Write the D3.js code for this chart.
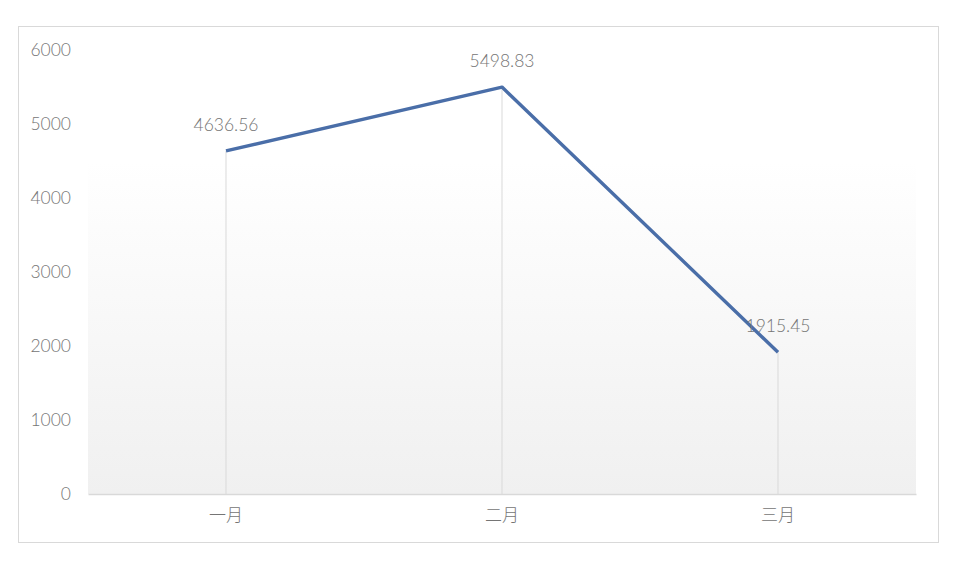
<!DOCTYPE html>
<html>
<head>
<meta charset="utf-8">
<script src="https://cdn.jsdelivr.net/npm/d3@7"></script>
<style>
  body { margin: 0; background: #fff; }
</style>
</head>
<body>
<script>
const months = ["一月", "二月", "三月"];
const values = [4636.56, 5498.83, 1915.45];
const yTicks = [0, 1000, 2000, 3000, 4000, 5000, 6000];

const width = 960, height = 564;
const margin = { top: 50, right: 44, bottom: 70, left: 88 };
const textColor = "#757575";

const svg = d3.select("body").append("svg")
  .attr("width", width)
  .attr("height", height)
  .attr("font-family", "Lato, 'Noto Sans CJK SC', sans-serif")
  .attr("font-weight", 300);

// outer chart border
svg.append("rect")
  .attr("x", 18.5).attr("y", 26.5)
  .attr("width", 920).attr("height", 516)
  .attr("fill", "#fff")
  .attr("stroke", "#d9d9d9");

const x = d3.scaleBand()
  .domain(months)
  .range([margin.left, width - margin.right]);

const y = d3.scaleLinear()
  .domain([0, 6000])
  .range([height - margin.bottom, margin.top]);

const defs = svg.append("defs");
const grad = defs.append("linearGradient")
  .attr("id", "bg")
  .attr("x1", 0).attr("y1", 0).attr("x2", 0).attr("y2", 1);
grad.append("stop").attr("offset", "0%").attr("stop-color", "#ffffff");
grad.append("stop").attr("offset", "25%").attr("stop-color", "#ffffff");
grad.append("stop").attr("offset", "100%").attr("stop-color", "#f0f0f0");

svg.append("rect")
  .attr("x", margin.left)
  .attr("y", margin.top)
  .attr("width", width - margin.left - margin.right)
  .attr("height", height - margin.top - margin.bottom)
  .attr("fill", "url(#bg)");

// y axis labels
svg.append("g")
  .selectAll("text")
  .data(yTicks)
  .join("text")
  .attr("x", 71)
  .attr("y", d => y(d))
  .attr("dy", "0.35em")
  .attr("text-anchor", "end")
  .attr("font-size", 17.5)
  .attr("fill", textColor)
  .text(d => d);

// x axis
const xAxis = svg.append("g")
  .attr("transform", `translate(0,${y(0)})`)
  .call(d3.axisBottom(x).tickSize(0).tickPadding(15));
xAxis.select(".domain").attr("stroke", "#d9d9d9").attr("stroke-width", 1.5);
xAxis.selectAll("text")
  .attr("font-size", 17)
  .attr("fill", textColor)
  .attr("font-weight", 300)
  .attr("font-family", "'Noto Sans CJK SC', sans-serif");

const cx = d => x(d) + x.bandwidth() / 2;

// drop lines
svg.append("g")
  .selectAll("line")
  .data(months)
  .join("line")
  .attr("x1", d => cx(d))
  .attr("x2", d => cx(d))
  .attr("y1", (d, i) => y(values[i]))
  .attr("y2", y(0))
  .attr("stroke", "#d9d9d9")
  .attr("stroke-width", 1);

const line = d3.line()
  .x((d, i) => cx(months[i]))
  .y(d => y(d));

svg.append("path")
  .datum(values)
  .attr("d", line)
  .attr("fill", "none")
  .attr("stroke", "#4a6ea8")
  .attr("stroke-width", 3.4)
  .attr("stroke-linejoin", "round");

// data labels
svg.append("g")
  .selectAll("text")
  .data(values)
  .join("text")
  .attr("x", (d, i) => cx(months[i]))
  .attr("y", d => y(d) - 20)
  .attr("text-anchor", "middle")
  .attr("font-size", 17.5)
  .attr("fill", textColor)
  .text(d => d.toFixed(2));
</script>
</body>
</html>
